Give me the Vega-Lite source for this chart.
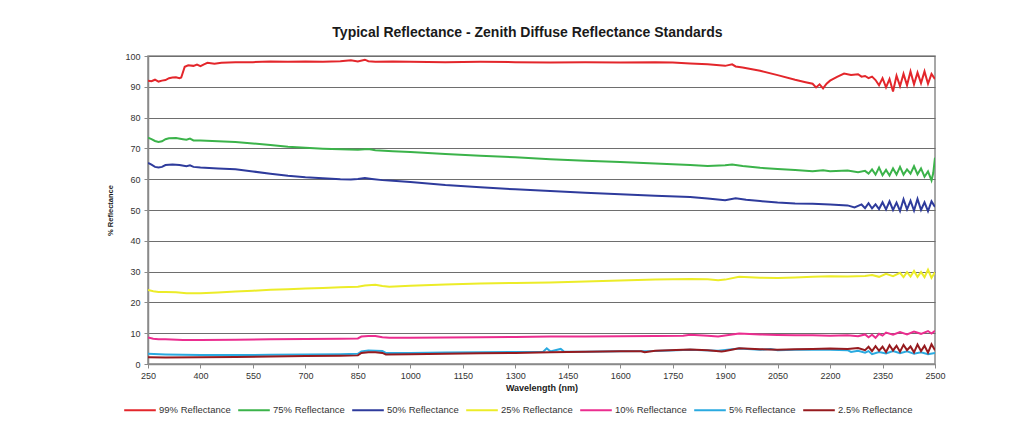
{
  "$schema": "https://vega.github.io/schema/vega-lite/v6.json",
  "width": 787,
  "height": 308,
  "autosize": {"type": "none"},
  "padding": {"left": 148, "top": 56, "right": 95, "bottom": 57},
  "background": "white",
  "title": {
    "text": "Typical Reflectance - Zenith Diffuse Reflectance Standards",
    "font": "Liberation Sans",
    "fontSize": 14,
    "fontWeight": "bold",
    "color": "#1a1a1a",
    "anchor": "middle",
    "dx": -14,
    "offset": 12
  },
  "config": {
    "font": "Liberation Sans",
    "view": {"stroke": "#8a8a8a", "strokeWidth": 1.5}
  },
  "data": {
    "values": [
      {"s":"99% Reflectance","x":250,"y":92},{"s":"99% Reflectance","x":260,"y":91.8},{"s":"99% Reflectance","x":270,"y":92.3},{"s":"99% Reflectance","x":280,"y":91.7},{"s":"99% Reflectance","x":290,"y":92},{"s":"99% Reflectance","x":300,"y":92.2},{"s":"99% Reflectance","x":310,"y":92.8},{"s":"99% Reflectance","x":320,"y":93},{"s":"99% Reflectance","x":330,"y":93.1},{"s":"99% Reflectance","x":340,"y":92.8},{"s":"99% Reflectance","x":345,"y":93},{"s":"99% Reflectance","x":355,"y":96.5},{"s":"99% Reflectance","x":365,"y":97},{"s":"99% Reflectance","x":380,"y":96.8},{"s":"99% Reflectance","x":390,"y":97.2},{"s":"99% Reflectance","x":400,"y":96.7},{"s":"99% Reflectance","x":410,"y":97.3},{"s":"99% Reflectance","x":420,"y":97.8},{"s":"99% Reflectance","x":440,"y":97.5},{"s":"99% Reflectance","x":460,"y":97.8},{"s":"99% Reflectance","x":500,"y":98},{"s":"99% Reflectance","x":550,"y":98},{"s":"99% Reflectance","x":600,"y":98.2},{"s":"99% Reflectance","x":650,"y":98.1},{"s":"99% Reflectance","x":700,"y":98.2},{"s":"99% Reflectance","x":750,"y":98.1},{"s":"99% Reflectance","x":800,"y":98.3},{"s":"99% Reflectance","x":830,"y":98.6},{"s":"99% Reflectance","x":850,"y":98.2},{"s":"99% Reflectance","x":870,"y":98.8},{"s":"99% Reflectance","x":880,"y":98.3},{"s":"99% Reflectance","x":900,"y":98.1},{"s":"99% Reflectance","x":950,"y":98.2},{"s":"99% Reflectance","x":1000,"y":98.1},{"s":"99% Reflectance","x":1100,"y":98},{"s":"99% Reflectance","x":1200,"y":98.1},{"s":"99% Reflectance","x":1300,"y":98},{"s":"99% Reflectance","x":1400,"y":97.9},{"s":"99% Reflectance","x":1500,"y":98},{"s":"99% Reflectance","x":1600,"y":97.9},{"s":"99% Reflectance","x":1700,"y":98},{"s":"99% Reflectance","x":1750,"y":97.9},{"s":"99% Reflectance","x":1800,"y":97.6},{"s":"99% Reflectance","x":1850,"y":97.3},{"s":"99% Reflectance","x":1900,"y":96.8},{"s":"99% Reflectance","x":1920,"y":97.3},{"s":"99% Reflectance","x":1930,"y":96.6},{"s":"99% Reflectance","x":1950,"y":96.3},{"s":"99% Reflectance","x":2000,"y":95.2},{"s":"99% Reflectance","x":2050,"y":93.8},{"s":"99% Reflectance","x":2100,"y":92.3},{"s":"99% Reflectance","x":2130,"y":91.5},{"s":"99% Reflectance","x":2150,"y":91},{"s":"99% Reflectance","x":2160,"y":89.8},{"s":"99% Reflectance","x":2170,"y":90.8},{"s":"99% Reflectance","x":2180,"y":89.5},{"s":"99% Reflectance","x":2190,"y":91},{"s":"99% Reflectance","x":2200,"y":92},{"s":"99% Reflectance","x":2220,"y":93.2},{"s":"99% Reflectance","x":2240,"y":94.3},{"s":"99% Reflectance","x":2260,"y":93.8},{"s":"99% Reflectance","x":2280,"y":94.1},{"s":"99% Reflectance","x":2290,"y":93.3},{"s":"99% Reflectance","x":2300,"y":93.5},{"s":"99% Reflectance","x":2310,"y":92.8},{"s":"99% Reflectance","x":2320,"y":93.3},{"s":"99% Reflectance","x":2330,"y":92.2},{"s":"99% Reflectance","x":2340,"y":90.5},{"s":"99% Reflectance","x":2350,"y":92.8},{"s":"99% Reflectance","x":2360,"y":89.8},{"s":"99% Reflectance","x":2370,"y":92.5},{"s":"99% Reflectance","x":2380,"y":88.5},{"s":"99% Reflectance","x":2390,"y":93.6},{"s":"99% Reflectance","x":2400,"y":90.2},{"s":"99% Reflectance","x":2410,"y":94.2},{"s":"99% Reflectance","x":2420,"y":90.5},{"s":"99% Reflectance","x":2430,"y":95},{"s":"99% Reflectance","x":2440,"y":90.8},{"s":"99% Reflectance","x":2450,"y":94.6},{"s":"99% Reflectance","x":2460,"y":91.2},{"s":"99% Reflectance","x":2470,"y":95},{"s":"99% Reflectance","x":2480,"y":91},{"s":"99% Reflectance","x":2490,"y":94.2},{"s":"99% Reflectance","x":2500,"y":92.5},

      {"s":"75% Reflectance","x":250,"y":73.5},{"s":"75% Reflectance","x":260,"y":73},{"s":"75% Reflectance","x":270,"y":72.4},{"s":"75% Reflectance","x":280,"y":72.1},{"s":"75% Reflectance","x":290,"y":72.3},{"s":"75% Reflectance","x":300,"y":73},{"s":"75% Reflectance","x":310,"y":73.3},{"s":"75% Reflectance","x":330,"y":73.4},{"s":"75% Reflectance","x":350,"y":73},{"s":"75% Reflectance","x":360,"y":72.8},{"s":"75% Reflectance","x":370,"y":73.2},{"s":"75% Reflectance","x":380,"y":72.6},{"s":"75% Reflectance","x":400,"y":72.6},{"s":"75% Reflectance","x":450,"y":72.3},{"s":"75% Reflectance","x":500,"y":72.1},{"s":"75% Reflectance","x":550,"y":71.6},{"s":"75% Reflectance","x":600,"y":71.1},{"s":"75% Reflectance","x":650,"y":70.5},{"s":"75% Reflectance","x":700,"y":70.2},{"s":"75% Reflectance","x":750,"y":69.9},{"s":"75% Reflectance","x":800,"y":69.7},{"s":"75% Reflectance","x":850,"y":69.6},{"s":"75% Reflectance","x":880,"y":69.8},{"s":"75% Reflectance","x":900,"y":69.4},{"s":"75% Reflectance","x":950,"y":69.1},{"s":"75% Reflectance","x":1000,"y":68.8},{"s":"75% Reflectance","x":1100,"y":68.2},{"s":"75% Reflectance","x":1200,"y":67.6},{"s":"75% Reflectance","x":1300,"y":67.1},{"s":"75% Reflectance","x":1400,"y":66.5},{"s":"75% Reflectance","x":1500,"y":66},{"s":"75% Reflectance","x":1600,"y":65.6},{"s":"75% Reflectance","x":1700,"y":65.1},{"s":"75% Reflectance","x":1800,"y":64.6},{"s":"75% Reflectance","x":1850,"y":64.3},{"s":"75% Reflectance","x":1900,"y":64.5},{"s":"75% Reflectance","x":1920,"y":64.8},{"s":"75% Reflectance","x":1950,"y":64.3},{"s":"75% Reflectance","x":2000,"y":63.7},{"s":"75% Reflectance","x":2050,"y":63.3},{"s":"75% Reflectance","x":2100,"y":63},{"s":"75% Reflectance","x":2150,"y":62.6},{"s":"75% Reflectance","x":2180,"y":62.9},{"s":"75% Reflectance","x":2200,"y":62.6},{"s":"75% Reflectance","x":2250,"y":62.8},{"s":"75% Reflectance","x":2280,"y":62.3},{"s":"75% Reflectance","x":2300,"y":62.7},{"s":"75% Reflectance","x":2310,"y":61.8},{"s":"75% Reflectance","x":2320,"y":63.2},{"s":"75% Reflectance","x":2330,"y":61.5},{"s":"75% Reflectance","x":2340,"y":63.8},{"s":"75% Reflectance","x":2350,"y":61.3},{"s":"75% Reflectance","x":2360,"y":63},{"s":"75% Reflectance","x":2370,"y":61.2},{"s":"75% Reflectance","x":2380,"y":63.5},{"s":"75% Reflectance","x":2390,"y":61.5},{"s":"75% Reflectance","x":2400,"y":64},{"s":"75% Reflectance","x":2410,"y":61.5},{"s":"75% Reflectance","x":2420,"y":63.2},{"s":"75% Reflectance","x":2430,"y":61.8},{"s":"75% Reflectance","x":2440,"y":64.2},{"s":"75% Reflectance","x":2450,"y":61.6},{"s":"75% Reflectance","x":2460,"y":63.5},{"s":"75% Reflectance","x":2470,"y":60.8},{"s":"75% Reflectance","x":2480,"y":62.5},{"s":"75% Reflectance","x":2490,"y":59.6},{"s":"75% Reflectance","x":2495,"y":62},{"s":"75% Reflectance","x":2500,"y":67},

      {"s":"50% Reflectance","x":250,"y":65.3},{"s":"50% Reflectance","x":260,"y":64.7},{"s":"50% Reflectance","x":270,"y":64},{"s":"50% Reflectance","x":280,"y":63.8},{"s":"50% Reflectance","x":290,"y":64},{"s":"50% Reflectance","x":300,"y":64.6},{"s":"50% Reflectance","x":320,"y":64.8},{"s":"50% Reflectance","x":340,"y":64.6},{"s":"50% Reflectance","x":360,"y":64.2},{"s":"50% Reflectance","x":370,"y":64.5},{"s":"50% Reflectance","x":380,"y":64},{"s":"50% Reflectance","x":400,"y":63.8},{"s":"50% Reflectance","x":450,"y":63.5},{"s":"50% Reflectance","x":500,"y":63.2},{"s":"50% Reflectance","x":550,"y":62.5},{"s":"50% Reflectance","x":600,"y":61.8},{"s":"50% Reflectance","x":650,"y":61.1},{"s":"50% Reflectance","x":700,"y":60.6},{"s":"50% Reflectance","x":750,"y":60.3},{"s":"50% Reflectance","x":800,"y":60},{"s":"50% Reflectance","x":830,"y":59.9},{"s":"50% Reflectance","x":850,"y":60.1},{"s":"50% Reflectance","x":870,"y":60.4},{"s":"50% Reflectance","x":890,"y":60.1},{"s":"50% Reflectance","x":920,"y":59.7},{"s":"50% Reflectance","x":950,"y":59.5},{"s":"50% Reflectance","x":1000,"y":59.1},{"s":"50% Reflectance","x":1100,"y":58.1},{"s":"50% Reflectance","x":1200,"y":57.4},{"s":"50% Reflectance","x":1300,"y":56.7},{"s":"50% Reflectance","x":1400,"y":56.2},{"s":"50% Reflectance","x":1500,"y":55.6},{"s":"50% Reflectance","x":1600,"y":55.1},{"s":"50% Reflectance","x":1700,"y":54.6},{"s":"50% Reflectance","x":1800,"y":54.2},{"s":"50% Reflectance","x":1850,"y":53.7},{"s":"50% Reflectance","x":1900,"y":53.2},{"s":"50% Reflectance","x":1930,"y":53.8},{"s":"50% Reflectance","x":1960,"y":53.3},{"s":"50% Reflectance","x":2000,"y":52.9},{"s":"50% Reflectance","x":2050,"y":52.4},{"s":"50% Reflectance","x":2100,"y":52.1},{"s":"50% Reflectance","x":2150,"y":52},{"s":"50% Reflectance","x":2200,"y":51.8},{"s":"50% Reflectance","x":2250,"y":51.5},{"s":"50% Reflectance","x":2270,"y":50.8},{"s":"50% Reflectance","x":2290,"y":51.8},{"s":"50% Reflectance","x":2300,"y":50.6},{"s":"50% Reflectance","x":2310,"y":52.2},{"s":"50% Reflectance","x":2320,"y":50.5},{"s":"50% Reflectance","x":2330,"y":51.8},{"s":"50% Reflectance","x":2340,"y":50.3},{"s":"50% Reflectance","x":2350,"y":52.5},{"s":"50% Reflectance","x":2360,"y":50.2},{"s":"50% Reflectance","x":2370,"y":52.8},{"s":"50% Reflectance","x":2380,"y":50},{"s":"50% Reflectance","x":2390,"y":52.4},{"s":"50% Reflectance","x":2400,"y":49.7},{"s":"50% Reflectance","x":2410,"y":53.5},{"s":"50% Reflectance","x":2420,"y":50.2},{"s":"50% Reflectance","x":2430,"y":53},{"s":"50% Reflectance","x":2440,"y":49.8},{"s":"50% Reflectance","x":2450,"y":53.6},{"s":"50% Reflectance","x":2460,"y":50},{"s":"50% Reflectance","x":2470,"y":52.5},{"s":"50% Reflectance","x":2480,"y":49.6},{"s":"50% Reflectance","x":2490,"y":52.8},{"s":"50% Reflectance","x":2500,"y":51},

      {"s":"25% Reflectance","x":250,"y":24},{"s":"25% Reflectance","x":265,"y":23.6},{"s":"25% Reflectance","x":280,"y":23.4},{"s":"25% Reflectance","x":300,"y":23.4},{"s":"25% Reflectance","x":330,"y":23.3},{"s":"25% Reflectance","x":360,"y":23},{"s":"25% Reflectance","x":400,"y":23},{"s":"25% Reflectance","x":450,"y":23.2},{"s":"25% Reflectance","x":500,"y":23.5},{"s":"25% Reflectance","x":550,"y":23.8},{"s":"25% Reflectance","x":600,"y":24.1},{"s":"25% Reflectance","x":650,"y":24.3},{"s":"25% Reflectance","x":700,"y":24.5},{"s":"25% Reflectance","x":750,"y":24.7},{"s":"25% Reflectance","x":800,"y":24.9},{"s":"25% Reflectance","x":850,"y":25.1},{"s":"25% Reflectance","x":870,"y":25.5},{"s":"25% Reflectance","x":900,"y":25.7},{"s":"25% Reflectance","x":920,"y":25.3},{"s":"25% Reflectance","x":940,"y":25.1},{"s":"25% Reflectance","x":1000,"y":25.4},{"s":"25% Reflectance","x":1100,"y":25.8},{"s":"25% Reflectance","x":1200,"y":26.1},{"s":"25% Reflectance","x":1300,"y":26.3},{"s":"25% Reflectance","x":1400,"y":26.5},{"s":"25% Reflectance","x":1500,"y":26.8},{"s":"25% Reflectance","x":1600,"y":27.1},{"s":"25% Reflectance","x":1700,"y":27.4},{"s":"25% Reflectance","x":1800,"y":27.6},{"s":"25% Reflectance","x":1850,"y":27.5},{"s":"25% Reflectance","x":1880,"y":27.2},{"s":"25% Reflectance","x":1900,"y":27.4},{"s":"25% Reflectance","x":1940,"y":28.3},{"s":"25% Reflectance","x":2000,"y":28},{"s":"25% Reflectance","x":2050,"y":27.9},{"s":"25% Reflectance","x":2100,"y":28.1},{"s":"25% Reflectance","x":2150,"y":28.3},{"s":"25% Reflectance","x":2200,"y":28.5},{"s":"25% Reflectance","x":2250,"y":28.4},{"s":"25% Reflectance","x":2300,"y":28.6},{"s":"25% Reflectance","x":2320,"y":28.9},{"s":"25% Reflectance","x":2340,"y":28.3},{"s":"25% Reflectance","x":2360,"y":29.3},{"s":"25% Reflectance","x":2380,"y":28.5},{"s":"25% Reflectance","x":2400,"y":29.6},{"s":"25% Reflectance","x":2410,"y":28.2},{"s":"25% Reflectance","x":2420,"y":29.8},{"s":"25% Reflectance","x":2430,"y":28.4},{"s":"25% Reflectance","x":2440,"y":30.2},{"s":"25% Reflectance","x":2450,"y":28.3},{"s":"25% Reflectance","x":2460,"y":29.9},{"s":"25% Reflectance","x":2470,"y":28.2},{"s":"25% Reflectance","x":2480,"y":30.6},{"s":"25% Reflectance","x":2490,"y":28},{"s":"25% Reflectance","x":2500,"y":29.8},

      {"s":"10% Reflectance","x":250,"y":8.6},{"s":"10% Reflectance","x":265,"y":8.2},{"s":"10% Reflectance","x":280,"y":8},{"s":"10% Reflectance","x":300,"y":8},{"s":"10% Reflectance","x":350,"y":7.8},{"s":"10% Reflectance","x":400,"y":7.8},{"s":"10% Reflectance","x":500,"y":7.9},{"s":"10% Reflectance","x":600,"y":8},{"s":"10% Reflectance","x":700,"y":8.1},{"s":"10% Reflectance","x":800,"y":8.2},{"s":"10% Reflectance","x":850,"y":8.3},{"s":"10% Reflectance","x":860,"y":8.9},{"s":"10% Reflectance","x":880,"y":9.1},{"s":"10% Reflectance","x":900,"y":9.1},{"s":"10% Reflectance","x":920,"y":8.7},{"s":"10% Reflectance","x":940,"y":8.5},{"s":"10% Reflectance","x":1000,"y":8.5},{"s":"10% Reflectance","x":1100,"y":8.6},{"s":"10% Reflectance","x":1200,"y":8.7},{"s":"10% Reflectance","x":1300,"y":8.8},{"s":"10% Reflectance","x":1400,"y":8.9},{"s":"10% Reflectance","x":1500,"y":8.9},{"s":"10% Reflectance","x":1600,"y":9},{"s":"10% Reflectance","x":1700,"y":9.1},{"s":"10% Reflectance","x":1780,"y":9.2},{"s":"10% Reflectance","x":1800,"y":9.5},{"s":"10% Reflectance","x":1850,"y":9.2},{"s":"10% Reflectance","x":1880,"y":8.9},{"s":"10% Reflectance","x":1920,"y":9.6},{"s":"10% Reflectance","x":1940,"y":9.9},{"s":"10% Reflectance","x":2000,"y":9.6},{"s":"10% Reflectance","x":2050,"y":9.4},{"s":"10% Reflectance","x":2100,"y":9.3},{"s":"10% Reflectance","x":2150,"y":9.3},{"s":"10% Reflectance","x":2200,"y":9.2},{"s":"10% Reflectance","x":2250,"y":9.3},{"s":"10% Reflectance","x":2280,"y":9},{"s":"10% Reflectance","x":2300,"y":9.6},{"s":"10% Reflectance","x":2310,"y":8.7},{"s":"10% Reflectance","x":2320,"y":9.5},{"s":"10% Reflectance","x":2330,"y":8.5},{"s":"10% Reflectance","x":2340,"y":9.8},{"s":"10% Reflectance","x":2350,"y":9.2},{"s":"10% Reflectance","x":2360,"y":10.2},{"s":"10% Reflectance","x":2380,"y":9.5},{"s":"10% Reflectance","x":2400,"y":10.4},{"s":"10% Reflectance","x":2420,"y":9.6},{"s":"10% Reflectance","x":2440,"y":10.5},{"s":"10% Reflectance","x":2460,"y":9.8},{"s":"10% Reflectance","x":2480,"y":10.7},{"s":"10% Reflectance","x":2490,"y":9.9},{"s":"10% Reflectance","x":2500,"y":10.8},

      {"s":"5% Reflectance","x":250,"y":3.3},{"s":"5% Reflectance","x":300,"y":3.1},{"s":"5% Reflectance","x":400,"y":2.9},{"s":"5% Reflectance","x":500,"y":2.9},{"s":"5% Reflectance","x":600,"y":3},{"s":"5% Reflectance","x":700,"y":3.1},{"s":"5% Reflectance","x":800,"y":3.2},{"s":"5% Reflectance","x":850,"y":3.3},{"s":"5% Reflectance","x":860,"y":4.1},{"s":"5% Reflectance","x":880,"y":4.4},{"s":"5% Reflectance","x":900,"y":4.3},{"s":"5% Reflectance","x":920,"y":4.2},{"s":"5% Reflectance","x":930,"y":3.6},{"s":"5% Reflectance","x":1000,"y":3.6},{"s":"5% Reflectance","x":1100,"y":3.7},{"s":"5% Reflectance","x":1200,"y":3.8},{"s":"5% Reflectance","x":1300,"y":3.9},{"s":"5% Reflectance","x":1380,"y":4},{"s":"5% Reflectance","x":1390,"y":5.1},{"s":"5% Reflectance","x":1400,"y":4.1},{"s":"5% Reflectance","x":1430,"y":4.9},{"s":"5% Reflectance","x":1440,"y":4},{"s":"5% Reflectance","x":1500,"y":4},{"s":"5% Reflectance","x":1600,"y":4.1},{"s":"5% Reflectance","x":1700,"y":4.2},{"s":"5% Reflectance","x":1800,"y":4.6},{"s":"5% Reflectance","x":1880,"y":4.3},{"s":"5% Reflectance","x":1940,"y":5},{"s":"5% Reflectance","x":2000,"y":4.6},{"s":"5% Reflectance","x":2030,"y":4.9},{"s":"5% Reflectance","x":2050,"y":4.5},{"s":"5% Reflectance","x":2100,"y":4.6},{"s":"5% Reflectance","x":2150,"y":4.7},{"s":"5% Reflectance","x":2200,"y":4.6},{"s":"5% Reflectance","x":2250,"y":4.5},{"s":"5% Reflectance","x":2260,"y":3.9},{"s":"5% Reflectance","x":2280,"y":4.3},{"s":"5% Reflectance","x":2300,"y":3.7},{"s":"5% Reflectance","x":2310,"y":4.2},{"s":"5% Reflectance","x":2320,"y":3.2},{"s":"5% Reflectance","x":2340,"y":3.9},{"s":"5% Reflectance","x":2360,"y":3.4},{"s":"5% Reflectance","x":2380,"y":4.2},{"s":"5% Reflectance","x":2400,"y":3.5},{"s":"5% Reflectance","x":2420,"y":4.1},{"s":"5% Reflectance","x":2440,"y":3.3},{"s":"5% Reflectance","x":2460,"y":3.8},{"s":"5% Reflectance","x":2480,"y":3.2},{"s":"5% Reflectance","x":2500,"y":3.6},

      {"s":"2.5% Reflectance","x":250,"y":2.2},{"s":"2.5% Reflectance","x":300,"y":2.1},{"s":"2.5% Reflectance","x":400,"y":2.2},{"s":"2.5% Reflectance","x":500,"y":2.3},{"s":"2.5% Reflectance","x":600,"y":2.4},{"s":"2.5% Reflectance","x":700,"y":2.6},{"s":"2.5% Reflectance","x":800,"y":2.7},{"s":"2.5% Reflectance","x":850,"y":2.8},{"s":"2.5% Reflectance","x":860,"y":3.6},{"s":"2.5% Reflectance","x":880,"y":3.8},{"s":"2.5% Reflectance","x":900,"y":3.8},{"s":"2.5% Reflectance","x":920,"y":3.6},{"s":"2.5% Reflectance","x":930,"y":3.1},{"s":"2.5% Reflectance","x":1000,"y":3.2},{"s":"2.5% Reflectance","x":1100,"y":3.3},{"s":"2.5% Reflectance","x":1200,"y":3.5},{"s":"2.5% Reflectance","x":1300,"y":3.6},{"s":"2.5% Reflectance","x":1400,"y":3.8},{"s":"2.5% Reflectance","x":1500,"y":4},{"s":"2.5% Reflectance","x":1600,"y":4.1},{"s":"2.5% Reflectance","x":1660,"y":4.1},{"s":"2.5% Reflectance","x":1670,"y":3.8},{"s":"2.5% Reflectance","x":1700,"y":4.3},{"s":"2.5% Reflectance","x":1800,"y":4.7},{"s":"2.5% Reflectance","x":1850,"y":4.5},{"s":"2.5% Reflectance","x":1890,"y":4.1},{"s":"2.5% Reflectance","x":1900,"y":4.2},{"s":"2.5% Reflectance","x":1940,"y":5.1},{"s":"2.5% Reflectance","x":2000,"y":4.8},{"s":"2.5% Reflectance","x":2050,"y":4.6},{"s":"2.5% Reflectance","x":2100,"y":4.8},{"s":"2.5% Reflectance","x":2150,"y":4.9},{"s":"2.5% Reflectance","x":2200,"y":5},{"s":"2.5% Reflectance","x":2250,"y":4.9},{"s":"2.5% Reflectance","x":2280,"y":5.2},{"s":"2.5% Reflectance","x":2300,"y":4.5},{"s":"2.5% Reflectance","x":2310,"y":5.6},{"s":"2.5% Reflectance","x":2320,"y":4.2},{"s":"2.5% Reflectance","x":2330,"y":5.8},{"s":"2.5% Reflectance","x":2340,"y":4.3},{"s":"2.5% Reflectance","x":2350,"y":5.6},{"s":"2.5% Reflectance","x":2360,"y":3.9},{"s":"2.5% Reflectance","x":2370,"y":6.1},{"s":"2.5% Reflectance","x":2380,"y":4.4},{"s":"2.5% Reflectance","x":2390,"y":5.9},{"s":"2.5% Reflectance","x":2400,"y":4},{"s":"2.5% Reflectance","x":2410,"y":6.2},{"s":"2.5% Reflectance","x":2420,"y":4.5},{"s":"2.5% Reflectance","x":2430,"y":5.7},{"s":"2.5% Reflectance","x":2440,"y":3.8},{"s":"2.5% Reflectance","x":2450,"y":6.3},{"s":"2.5% Reflectance","x":2460,"y":4.2},{"s":"2.5% Reflectance","x":2470,"y":5.9},{"s":"2.5% Reflectance","x":2480,"y":3.7},{"s":"2.5% Reflectance","x":2490,"y":6.4},{"s":"2.5% Reflectance","x":2500,"y":4.5}
    ]
  },
  "mark": {"type": "line", "strokeWidth": 2, "clip": true},
  "encoding": {
    "x": {
      "field": "x",
      "type": "quantitative",
      "scale": {"domain": [250, 2500], "nice": false, "zero": false},
      "axis": {
        "title": "Wavelength (nm)",
        "values": [250, 400, 550, 700, 850, 1000, 1150, 1300, 1450, 1600, 1750, 1900, 2050, 2200, 2350, 2500],
        "format": "d",
        "grid": false,
        "domainColor": "#8a8a8a",
        "domainWidth": 1.5,
        "tickColor": "#8a8a8a",
        "tickSize": 4,
        "labelFontSize": 9,
        "labelColor": "#333333",
        "labelPadding": 3,
        "labelFlush": false,
        "titleFontSize": 9,
        "titleFontWeight": "bold",
        "titleColor": "#1a1a1a",
        "titlePadding": 3
      }
    },
    "y": {
      "field": "y",
      "type": "quantitative",
      "scale": {"domain": [0, 100], "nice": false},
      "axis": {
        "title": "% Reflectance",
        "values": [0, 10, 20, 30, 40, 50, 60, 70, 80, 90, 100],
        "grid": true,
        "gridColor": "#6e6e6e",
        "gridWidth": 1.2,
        "domainColor": "#8a8a8a",
        "domainWidth": 1.5,
        "tickColor": "#8a8a8a",
        "tickSize": 4,
        "labelFontSize": 9,
        "labelColor": "#333333",
        "labelPadding": 4,
        "titleFontSize": 7.5,
        "titleFontWeight": "bold",
        "titleColor": "#1a1a1a",
        "titlePadding": 10
      }
    },
    "color": {
      "field": "s",
      "type": "nominal",
      "sort": null,
      "scale": {
        "domain": ["99% Reflectance", "75% Reflectance", "50% Reflectance", "25% Reflectance", "10% Reflectance", "5% Reflectance", "2.5% Reflectance"],
        "range": ["#e3262b", "#3bb34a", "#2e3b9c", "#ecec28", "#eb2d8f", "#2aaae0", "#961a1e"]
      },
      "legend": {
        "title": null,
        "orient": "none",
        "legendX": -25,
        "legendY": 337,
        "direction": "horizontal",
        "columns": 7,
        "symbolType": "stroke",
        "symbolSize": 1000,
        "symbolStrokeWidth": 2,
        "labelFontSize": 9.5,
        "labelColor": "#333333",
        "labelOffset": 2,
        "columnPadding": 3
      }
    }
  }
}
